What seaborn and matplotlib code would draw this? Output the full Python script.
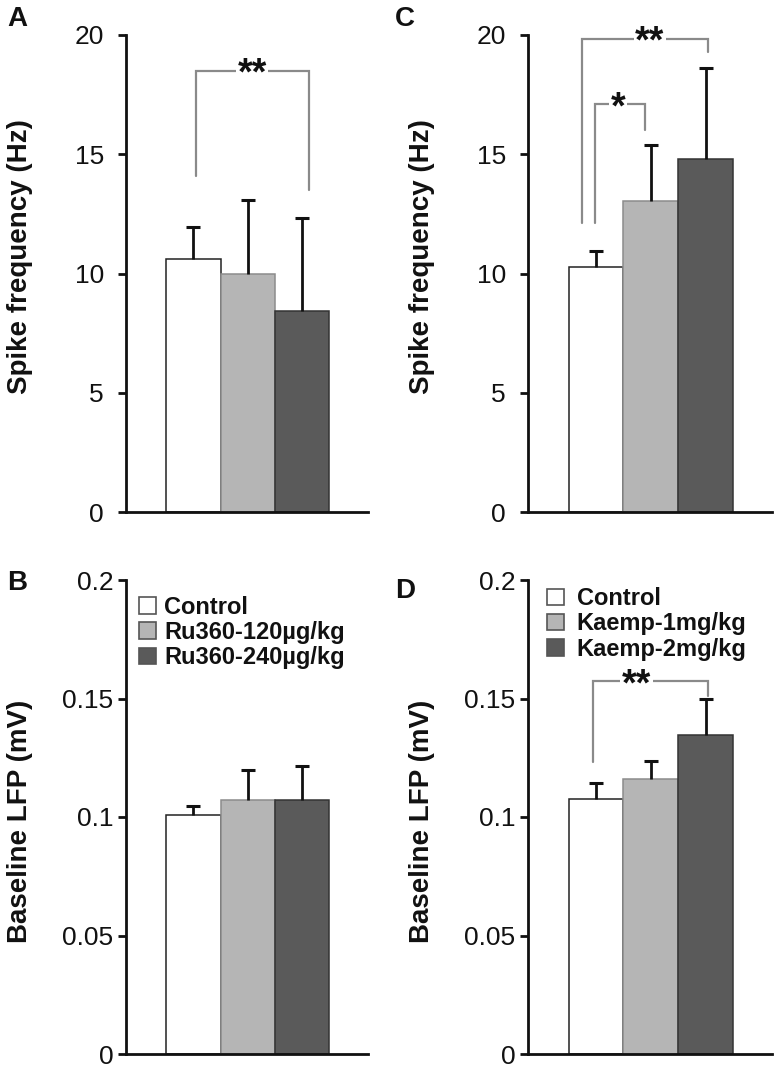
import numpy as np
import pandas as pd
import matplotlib
matplotlib.use("Agg")
import matplotlib.pyplot as plt
import seaborn as sns
from matplotlib.patches import Patch

# ---------------- data ----------------
groups = ["g0", "g1", "g2"]
bar_colors = ["#ffffff", "#b5b5b5", "#5a5a5a"]
bar_edges = ["#222222", "#8c8c8c", "#333333"]

ru_labels = ["Control", "Ru360-120\u00b5g/kg", "Ru360-240\u00b5g/kg"]
k_labels = ["Control", "Kaemp-1mg/kg", "Kaemp-2mg/kg"]

spike_ru_mean = [10.6, 10.0, 8.43]
spike_ru_sem = [1.37, 3.1, 3.88]
spike_k_mean = [10.28, 13.06, 14.81]
spike_k_sem = [0.65, 2.32, 3.8]
lfp_ru_mean = [0.101, 0.107, 0.107]
lfp_ru_sem = [0.0035, 0.013, 0.0144]
lfp_k_mean = [0.1077, 0.1162, 0.1348]
lfp_k_sem = [0.0068, 0.0076, 0.0148]

spike_ticks = [0, 5, 10, 15, 20]
spike_ticklabels = ["0", "5", "10", "15", "20"]
lfp_ticks = [0, 0.05, 0.1, 0.15, 0.2]
lfp_ticklabels = ["0", "0.05", "0.1", "0.15", "0.2"]

# brackets: (x_left, x_right, y_top, y_left_end, y_right_end, label, label_x)
brackets_A = [(0.04, 2.13, 18.5, 14.1, 13.5, "**", 1.08)]
brackets_C = [(-0.26, 2.05, 19.85, 12.1, 19.3, "**", 0.98),
              (-0.02, 0.89, 17.1, 12.1, 16.0, "*", 0.40)]
brackets_B = []
brackets_D = [(-0.05, 2.04, 0.1572, 0.1232, 0.1512, "**", 0.74)]

# ---------------- style ----------------
sns.set_style("ticks")
plt.rcParams["font.family"] = ["Liberation Sans", "DejaVu Sans"]

W, H = 779, 1067
fig = plt.figure(figsize=(W / 100, H / 100), dpi=100)


def axes_px(x0, x1, ytop, ybot):
    return fig.add_axes([x0 / W, 1 - ybot / H, (x1 - x0) / W, (ybot - ytop) / H])


def panel(ax, means, sems, ylim, ticks, ticklabels, ylabel, label_y, brackets, tickpad,
          legend_labels=None, legend_anchor=None, textpad=0.35):
    df = pd.DataFrame({"group": groups, "value": means})
    sns.barplot(data=df, x="group", y="value", hue="group", order=groups,
                palette=bar_colors, width=1.0, edgecolor="#3a3a3a", linewidth=1.1,
                errorbar=None, legend=False, ax=ax, zorder=2)
    for p, ec in zip(ax.patches, bar_edges):
        p.set_edgecolor(ec)
    xs = np.arange(len(groups))
    _, caps, _ = ax.errorbar(xs, means, yerr=[np.zeros(len(sems)), sems], fmt="none",
                             ecolor="#111111", elinewidth=2.0, capsize=5,
                             capthick=2.2, zorder=3)
    caps[0].set_visible(False)
    ax.set_xlim(-1.24, 3.21)
    ax.set_ylim(*ylim)
    ax.set_yticks(ticks)
    ax.set_yticklabels(ticklabels)
    ax.set_xticks([])
    ax.set_xlabel("")
    ax.set_ylabel(ylabel, fontsize=20, fontweight="bold", color="#111111")
    ax.yaxis.set_label_coords(-0.383, label_y)
    ax.tick_params(axis="y", length=6, width=2, direction="out", labelsize=19,
                   pad=tickpad, colors="#111111")
    for s in ["top", "right"]:
        ax.spines[s].set_visible(False)
    for s in ["left", "bottom"]:
        ax.spines[s].set_linewidth(2)
        ax.spines[s].set_color("#111111")
    for (xl, xr, yt, yle, yre, lab, lx) in brackets:
        ax.plot([xl, xl, xr, xr], [yle, yt, yt, yre], color="#8a8a8a", lw=1.6,
                zorder=4, solid_joinstyle="miter")
        ax.text(lx, yt, lab, ha="center", va="center_baseline", fontsize=27,
                fontweight="bold", color="#111111", zorder=5,
                bbox=dict(facecolor="white", edgecolor="none", pad=1.0))
    if legend_labels is not None:
        handles = [Patch(facecolor=c, edgecolor="#555555", linewidth=1.2, label=l)
                   for c, l in zip(bar_colors, legend_labels)]
        ax.legend(handles=handles, loc="upper left", bbox_to_anchor=legend_anchor,
                  frameon=False, fontsize=17, handlelength=0.7,
                  handleheight=0.7, handletextpad=textpad, labelspacing=0.1,
                  borderpad=0.0, borderaxespad=0.0)
        for t in ax.get_legend().get_texts():
            t.set_fontweight("bold")
            t.set_color("#111111")


axA = axes_px(126, 368, 35, 512)
axC = axes_px(528, 772, 35, 512)
axB = axes_px(126, 368, 580, 1054)
axD = axes_px(528, 772, 580, 1054)

panel(axA, spike_ru_mean, spike_ru_sem, (0, 20), spike_ticks, spike_ticklabels,
      "Spike frequency (Hz)", 0.535, brackets_A, tickpad=10)
panel(axC, spike_k_mean, spike_k_sem, (0, 20), spike_ticks, spike_ticklabels,
      "Spike frequency (Hz)", 0.535, brackets_C, tickpad=10)
panel(axB, lfp_ru_mean, lfp_ru_sem, (0, 0.2), lfp_ticks, lfp_ticklabels,
      "Baseline LFP (mV)", 0.49, brackets_B, tickpad=3, legend_labels=ru_labels,
      legend_anchor=(0.055, 0.967), textpad=0.35)
panel(axD, lfp_k_mean, lfp_k_sem, (0, 0.2), lfp_ticks, lfp_ticklabels,
      "Baseline LFP (mV)", 0.49, brackets_D, tickpad=3, legend_labels=k_labels,
      legend_anchor=(0.078, 0.985), textpad=0.55)

for letter, (px, py) in {"A": (7, 6), "C": (395, 6), "B": (7, 570), "D": (395, 578)}.items():
    fig.text(px / W, 1 - py / H, letter, fontsize=20, fontweight="bold",
             ha="left", va="top", color="#111111")

fig.savefig("out.png", dpi=100)
